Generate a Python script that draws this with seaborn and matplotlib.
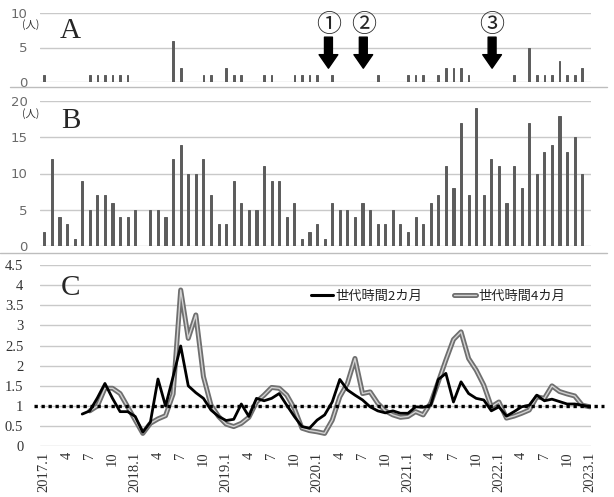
import numpy as np
import pandas as pd
import matplotlib
matplotlib.use("Agg")
import matplotlib.pyplot as plt
from matplotlib.lines import Line2D
import seaborn as sns

# ---------------- data ----------------
# monthly index 0 = 2017.1 ... 71 = 2022.12, 72 = 2023.1
cases_A = [1, 0, 0, 0, 0, 0, 1, 1, 1, 1, 1, 1,   # 2017
           0, 0, 0, 0, 0, 6, 2, 0, 0, 1, 1, 0,   # 2018
           2, 1, 1, 0, 0, 1, 1, 0, 0, 1, 1, 1,   # 2019
           1, 0, 1, 0, 0, 0, 0, 0, 1, 0, 0, 0,   # 2020
           1, 1, 1, 0, 1, 2, 2, 2, 1, 0, 0, 0,   # 2021
           0, 0, 1, 0, 5, 1, 1, 1, 3, 1, 1, 2]   # 2022

cases_B = [2, 12, 4, 3, 1, 9, 5, 7, 7, 6, 4, 4,
           5, 0, 5, 5, 4, 12, 14, 10, 10, 12, 7, 3,
           3, 9, 6, 5, 5, 11, 9, 9, 4, 6, 1, 2,
           3, 1, 6, 5, 5, 4, 6, 5, 3, 3, 5, 3,
           2, 4, 3, 6, 7, 11, 8, 17, 7, 19, 7, 12,
           11, 6, 11, 8, 17, 10, 13, 14, 18, 13, 15, 10]

# effective reproduction number, generation time 2 months (starts 2017.6, index 5)
rt_2m_start = 5
rt_2m = [0.80, 0.88, 1.20, 1.56, 1.19, 0.86, 0.86, 0.74, 0.35, 0.60, 1.67, 1.00,
         1.73, 2.49, 1.50, 1.33, 1.19, 0.90, 0.74, 0.64, 0.67, 1.05, 0.74, 1.19,
         1.13, 1.19, 1.31, 1.02, 0.74, 0.49, 0.45, 0.65, 0.78, 1.10, 1.66, 1.40,
         1.27, 1.15, 0.98, 0.88, 0.83, 0.88, 0.82, 0.82, 0.98, 0.97, 1.02, 1.66,
         1.81, 1.10, 1.60, 1.31, 1.19, 1.15, 0.88, 0.98, 0.75, 0.86, 0.98, 1.02,
         1.27, 1.13, 1.17, 1.11, 1.05, 1.05, 1.02, 0.98]

# generation time 4 months (starts 2017.7, index 6)
rt_4m_start = 6
rt_4m = [0.88, 1.00, 1.44, 1.44, 1.31, 0.98, 0.65, 0.32, 0.57, 0.68, 0.76, 1.30,
         3.88, 2.68, 3.26, 1.73, 1.02, 0.74, 0.55, 0.49, 0.57, 0.72, 1.10, 1.27,
         1.46, 1.44, 1.27, 0.94, 0.45, 0.39, 0.36, 0.32, 0.65, 1.23, 1.56, 2.18,
         1.31, 1.35, 1.07, 0.88, 0.78, 0.72, 0.74, 0.86, 0.78, 1.07, 1.60, 2.14,
         2.65, 2.84, 2.18, 1.89, 1.52, 0.98, 1.10, 0.70, 0.75, 0.82, 0.90, 1.23,
         1.19, 1.50, 1.36, 1.30, 1.25, 1.02, 0.98]

x_tick_pos = list(range(0, 73, 3))
x_tick_labels = ['2017.1', '4', '7', '10', '2018.1', '4', '7', '10',
                 '2019.1', '4', '7', '10', '2020.1', '4', '7', '10',
                 '2021.1', '4', '7', '10', '2022.1', '4', '7', '10', '2023.1']

arrow_pos = [37.5, 42.1, 59.1]
arrow_labels = ['①', '②', '③']
legend_labels = ['世代時間2カ月', '世代時間4カ月']

# ---------------- style ----------------
sns.set_theme(style="white")
plt.rcParams['font.family'] = ['DejaVu Sans']
CJK = ['Noto Sans CJK JP', 'DejaVu Sans']
SERIF = ['Liberation Serif', 'DejaVu Serif']
GRID = '#c9c9c9'
BAR = '#5c5c5c'

W, H = 614, 497
fig = plt.figure(figsize=(W / 100, H / 100), dpi=100)
fig.patch.set_facecolor('white')


def rect(l, t, r, b):
    return [l / W, 1 - b / H, (r - l) / W, (b - t) / H]


axA = fig.add_axes(rect(40, 13, 590.6, 82))
axB = fig.add_axes(rect(40, 101, 590.6, 246))
axC = fig.add_axes(rect(40, 265, 590.6, 446.3))

XL = (-0.57, 72.1)
months = np.arange(72)

dfA = pd.DataFrame({'m': months, 'v': cases_A})
dfB = pd.DataFrame({'m': months, 'v': cases_B})

sns.barplot(data=dfA, x='m', y='v', native_scale=True, width=0.22,
            color=BAR, saturation=1, ax=axA, zorder=3,
            edgecolor=BAR, linewidth=0.7)
sns.barplot(data=dfB, x='m', y='v', native_scale=True, width=0.28,
            color=BAR, saturation=1, ax=axB, zorder=3,
            edgecolor=BAR, linewidth=0.7)

for ax, yl, ticks in [(axA, (0, 10), [0, 5, 10]), (axB, (0, 20), [0, 5, 10, 15, 20])]:
    ax.set_xlim(*XL)
    ax.set_ylim(*yl)
    ax.set_yticks(ticks)
    ax.set_yticklabels([str(t) for t in ticks], color='#6a6a6a', fontsize=9.5)
    ax.set_xticks([])
    ax.set_xlabel('')
    ax.set_ylabel('')
    for t in ticks:
        ax.axhline(t, color=GRID, lw=1.0, zorder=1)
    for s in ax.spines.values():
        s.set_visible(False)
    ax.tick_params(axis='y', length=0, pad=9)
    ax.set_facecolor('none')

# panel letters and units
fig.text(70 / W, 1 - 31 / H, 'A', fontsize=21, family=SERIF, ha='center', va='center')
fig.text(71 / W, 1 - 121 / H, 'B', fontsize=21, family=SERIF, ha='center', va='center')
fig.text(70 / W, 1 - 288 / H, 'C', fontsize=21, family=SERIF, ha='center', va='center')
fig.text(31 / W, 1 - 25 / H, '(人)', fontsize=7.5, family=CJK, ha='center', va='center', color='#333333')
fig.text(31 / W, 1 - 114 / H, '(人)', fontsize=7.5, family=CJK, ha='center', va='center', color='#333333')

# arrows in panel A
for xp, lab in zip(arrow_pos, arrow_labels):
    axA.annotate('', xy=(xp, 2.0), xytext=(xp, 6.5),
                 arrowprops=dict(arrowstyle='simple,head_length=0.65,head_width=0.9,tail_width=0.38',
                                 color='black', shrinkA=0, shrinkB=0, mutation_scale=15),
                 annotation_clip=False, zorder=5)
    axA.text(xp, 8.3, lab, fontsize=18, family=CJK, ha='center', va='center', zorder=5)

# ---------------- panel C ----------------
idx2 = np.arange(rt_2m_start, rt_2m_start + len(rt_2m))
idx4 = np.arange(rt_4m_start, rt_4m_start + len(rt_4m))
df2 = pd.DataFrame({'m': idx2, 'v': rt_2m})
df4 = pd.DataFrame({'m': idx4, 'v': rt_4m})

for t in np.arange(0, 4.51, 0.5):
    axC.axhline(t, color=GRID, lw=1.0, zorder=1)

sns.lineplot(data=df4, x='m', y='v', color='#6f6f6f', lw=3.6, ax=axC, zorder=3)
sns.lineplot(data=df4, x='m', y='v', color='#d2d2d2', lw=1.0, ax=axC, zorder=4)
sns.lineplot(data=df2, x='m', y='v', color='black', lw=2.0, ax=axC, zorder=5)

axC.axhline(1.0, xmin=-0.01, xmax=1.025, color='black', lw=2.4,
            ls=(0, (1, 1.1)), zorder=6, clip_on=False)

axC.set_xlim(*XL)
axC.set_ylim(0, 4.5)
yt = np.arange(0, 4.51, 0.5)
axC.set_yticks(yt)
axC.set_yticklabels(['0' if v == 0 else ('%g' % v) for v in yt],
                    family=SERIF, fontsize=10.5, color='#333333')
axC.set_xticks(x_tick_pos)
axC.set_xticklabels(x_tick_labels, rotation=90, family=SERIF, fontsize=10.5, color='#333333')
axC.tick_params(axis='both', length=0)
axC.tick_params(axis='x', pad=4)
axC.tick_params(axis='y', pad=12)
axC.set_xlabel('')
axC.set_ylabel('')
for s in axC.spines.values():
    s.set_visible(False)
axC.set_facecolor('none')

h1 = Line2D([], [], color='black', lw=2.2)
h2a = Line2D([], [], color='#6f6f6f', lw=3.6)
h2b = Line2D([], [], color='#d2d2d2', lw=1.0)
leg = axC.legend([h1, (h2a, h2b)], legend_labels, ncol=2, frameon=False,
                 loc='center left', bbox_to_anchor=(311 / W, 1 - 296 / H),
                 bbox_transform=fig.transFigure, prop={'family': CJK, 'size': 9.5},
                 handlelength=1.7, handletextpad=0.15, columnspacing=2.4,
                 borderpad=0, borderaxespad=0)
for t in leg.get_texts():
    t.set_color('#222222')

# separator lines
fig.add_artist(Line2D([10 / W, 607 / W], [1 - 86.7 / H] * 2, color='#bdbdbd', lw=1.0))
fig.add_artist(Line2D([0 / W, 607 / W], [1 - 252.7 / H] * 2, color='#bdbdbd', lw=1.0))

fig.savefig('out.png', dpi=100, facecolor='white')
